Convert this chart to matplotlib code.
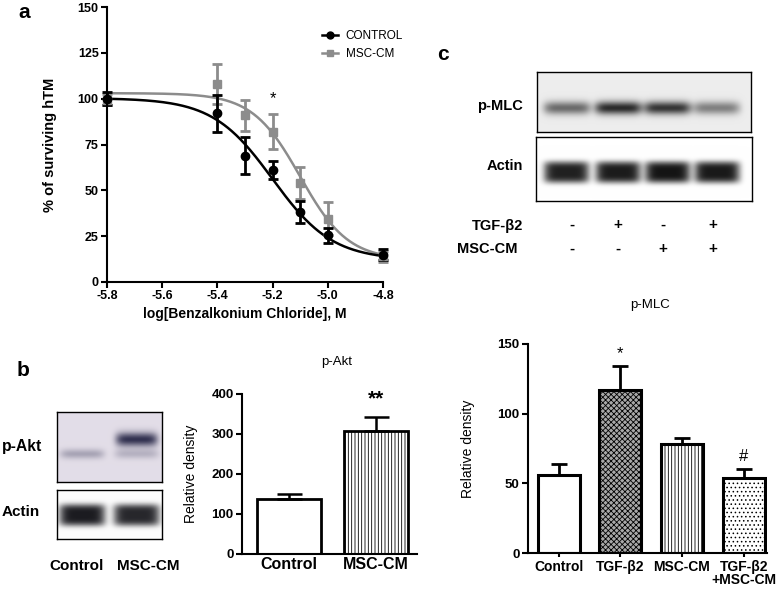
import numpy as np
import matplotlib

matplotlib.use("Agg")
import matplotlib.pyplot as plt
from matplotlib.lines import Line2D

plt.rcParams["font.family"] = ["Liberation Sans", "DejaVu Sans"]
plt.rcParams["hatch.linewidth"] = 0.6

W, H = 778, 590

# --- panel a: survival curves ---
log_conc = [-5.8, -5.4, -5.3, -5.2, -5.1, -5.0, -4.8]
control_surv = [100, 92, 69, 61, 38, 25.5, 15]
control_err = [3.5, 10, 10, 5, 6, 4, 3]
msc_surv = [99.5, 108, 91, 82, 54, 34.5, 14]
msc_err = [3, 11, 8.5, 9.5, 8.5, 9, 3]
# fitted 4PL parameters: top, bottom, logIC50, hill
control_fit = (100.3, 12.0, -5.20, 4.0)
msc_fit = (103.0, 12.0, -5.10, 5.0)

# --- panel b: p-Akt ---
akt_groups = ["Control", "MSC-CM"]
akt_density = [138, 308]
akt_err = [12, 34]
akt_lanes = [0.24, 0.76]
akt_upper_band = [0.0, 0.9]
akt_lower_band = [0.3, 0.22]
actin_b_band = [0.95, 0.9]

# --- panel c: p-MLC ---
mlc_groups = ["Control", "TGF-β2", "MSC-CM", "TGF-β2\n+MSC-CM"]
mlc_density = [56, 117, 78, 54]
mlc_err = [8, 17, 4.5, 6]
mlc_marks = ["", "*", "", "#"]
tgf_signs = ["-", "+", "-", "+"]
msc_signs = ["-", "-", "+", "+"]
mlc_lanes = [0.14, 0.38, 0.61, 0.84]
mlc_band = [0.6, 0.9, 0.85, 0.5]
actin_c_band = [0.95, 0.97, 1.0, 0.98]

GRAY = "#8c8c8c"


def px_axes(fig, l, t, r, b):
    return fig.add_axes([l / W, 1 - b / H, (r - l) / W, (b - t) / H])


def ftext(fig, x, y, s, **kw):
    return fig.text(x / W, 1 - y / H, s, **kw)


def logistic(x, top, bottom, logic50, hill):
    return bottom + (top - bottom) / (1 + 10 ** ((x - logic50) * hill))


def blot(ax, bands, base, ink, shape=(80, 240)):
    ny, nx = shape
    yy, xx = np.mgrid[0:1:ny * 1j, 0:1:nx * 1j]
    dark = np.zeros(shape)
    for lanes, amps, yc, hw, hh, py in bands:
        for cx, a in zip(lanes, amps):
            dark += a * np.exp(-np.abs((xx - cx) / hw) ** 6) * np.exp(-np.abs((yy - yc) / hh) ** py)
    dark = np.clip(dark, 0, 1)[..., None]
    img = np.array(base)[None, None, :] * (1 - dark) + np.array(ink)[None, None, :] * dark
    ax.imshow(img, aspect="auto", extent=(0, 1, 1, 0), interpolation="bilinear")
    ax.set_xticks([])
    ax.set_yticks([])
    for s in ax.spines.values():
        s.set_linewidth(1.0)


def style_bar_axes(ax, xtick_len=0):
    for side in ("top", "right"):
        ax.spines[side].set_visible(False)
    for side in ("left", "bottom"):
        ax.spines[side].set_linewidth(1.5)
    ax.tick_params(axis="y", width=1.5, length=4, labelsize=9.5, pad=2)
    ax.tick_params(axis="x", width=1.5, length=xtick_len, pad=2)
    for lab in ax.get_yticklabels():
        lab.set_fontweight("bold")


fig = plt.figure(figsize=(W / 100, H / 100), dpi=100)

# ---------- panel a ----------
ax = px_axes(fig, 107, 7, 383, 282)
xs = np.linspace(-5.8, -4.8, 300)
ax.plot(xs, logistic(xs, *msc_fit), color=GRAY, lw=1.8)
ax.plot(xs, logistic(xs, *control_fit), color="black", lw=1.8)
ax.errorbar(log_conc, msc_surv, yerr=msc_err, fmt="s", color=GRAY, ms=6,
            elinewidth=2, capsize=3.5, capthick=2, clip_on=False)
ax.errorbar(log_conc, control_surv, yerr=control_err, fmt="o", color="black", ms=6,
            elinewidth=2, capsize=3.5, capthick=2, clip_on=False)
ax.text(-5.2, 96, "*", ha="center", va="bottom", fontsize=12)
ax.set_xlim(-5.8, -4.8)
ax.set_ylim(0, 150)
ax.set_xticks(np.arange(-5.8, -4.79, 0.2))
ax.set_xticklabels([f"{v:.1f}" for v in np.arange(-5.8, -4.79, 0.2)])
ax.set_yticks(np.arange(0, 151, 25))
for side in ("top", "right"):
    ax.spines[side].set_visible(False)
for side in ("left", "bottom"):
    ax.spines[side].set_linewidth(1.5)
ax.tick_params(width=1.5, length=4, labelsize=9, pad=2)
for lab in ax.get_xticklabels() + ax.get_yticklabels():
    lab.set_fontweight("bold")
ax.set_ylabel("% of surviving hTM", fontsize=10.5, fontweight="bold")
ax.set_xlabel("log[Benzalkonium Chloride], M", fontsize=10, fontweight="bold")
ax.yaxis.set_label_coords(-0.18, 0.5)
ax.xaxis.set_label_coords(0.5, -0.09)
handles = [Line2D([], [], color="black", marker="o", ms=5, lw=1.8),
           Line2D([], [], color=GRAY, marker="s", ms=5, lw=1.8)]
ax.legend(handles, ["CONTROL", "MSC-CM"], frameon=False, fontsize=8.5,
          loc="upper left", bbox_to_anchor=(316 / W, 1 - 24 / H),
          bbox_transform=fig.transFigure, handlelength=1.4, handletextpad=0.6,
          labelspacing=0.5, borderpad=0)
ftext(fig, 18, 12, "a", fontsize=15, fontweight="bold", va="center", ha="left")

# ---------- panel b ----------
ftext(fig, 17, 371, "b", fontsize=15, fontweight="bold", va="center", ha="left")
axb1 = px_axes(fig, 57, 412, 162, 482)
blot(axb1, [(akt_lanes, akt_upper_band, 0.39, 0.2, 0.1, 2),
            (akt_lanes, akt_lower_band, 0.6, 0.21, 0.07, 2)],
     base=(0.89, 0.87, 0.91), ink=(0.12, 0.12, 0.25))
axb2 = px_axes(fig, 57, 490, 162, 539)
blot(axb2, [(akt_lanes, actin_b_band, 0.52, 0.22, 0.22, 4)],
     base=(0.99, 0.99, 0.99), ink=(0.06, 0.06, 0.08))
ftext(fig, 2, 447, "p-Akt", fontsize=11.3, fontweight="bold", va="center")
ftext(fig, 2, 512, "Actin", fontsize=11, fontweight="bold", va="center")
ftext(fig, 77, 566, "Control", fontsize=11, fontweight="bold", va="center", ha="center")
ftext(fig, 148, 566, "MSC-CM", fontsize=11, fontweight="bold", va="center", ha="center")

axb = px_axes(fig, 242, 394, 417, 554)
xb = np.arange(len(akt_groups))
axb.bar(xb, akt_density, width=0.74, yerr=[[0, 0], akt_err], color="white",
        edgecolor="black", linewidth=2, hatch=["", "|||||"],
        error_kw=dict(elinewidth=1.8, capsize=9, capthick=1.8))
axb.set_xlim(-0.54, 1.47)
axb.set_ylim(0, 400)
axb.set_yticks(np.arange(0, 401, 100))
axb.set_xticks(xb)
axb.set_xticklabels(akt_groups, fontsize=11.5, fontweight="bold")
style_bar_axes(axb)
axb.set_ylabel("Relative density", fontsize=10)
axb.yaxis.set_label_coords(-0.25, 0.5)
axb.text(1, akt_density[1] + akt_err[1] + 22, "**", ha="center", va="bottom",
         fontsize=15, fontweight="bold")
ftext(fig, 337, 362, "p-Akt", fontsize=9.5, ha="center", va="center")

# ---------- panel c ----------
ftext(fig, 437, 55, "c", fontsize=15, fontweight="bold", va="center", ha="left")
axc1 = px_axes(fig, 537, 72, 751, 132)
blot(axc1, [(mlc_lanes, mlc_band, 0.6, 0.11, 0.11, 2)],
     base=(0.93, 0.93, 0.93), ink=(0.08, 0.08, 0.08))
axc2 = px_axes(fig, 536, 137, 752, 201)
blot(axc2, [(mlc_lanes, actin_c_band, 0.55, 0.105, 0.17, 4)],
     base=(1.0, 1.0, 1.0), ink=(0.08, 0.08, 0.08))
ftext(fig, 523, 106, "p-MLC", fontsize=10.5, fontweight="bold", va="center", ha="right")
ftext(fig, 523, 166, "Actin", fontsize=10.5, fontweight="bold", va="center", ha="right")
ftext(fig, 523, 226, "TGF-β2", fontsize=10.5, fontweight="bold", va="center", ha="right")
ftext(fig, 517, 249, "MSC-CM", fontsize=10.5, fontweight="bold", va="center", ha="right")
for xp, t, m in zip([572, 618, 663, 713], tgf_signs, msc_signs):
    ftext(fig, xp, 225, t, fontsize=11, fontweight="bold", va="center", ha="center")
    ftext(fig, xp, 249, m, fontsize=11, fontweight="bold", va="center", ha="center")
ftext(fig, 650, 305, "p-MLC", fontsize=9.5, ha="center", va="center")

axc = px_axes(fig, 528, 344, 767, 553)
xc = np.arange(len(mlc_groups))
axc.bar(xc, mlc_density, width=0.68, yerr=[[0] * 4, mlc_err],
        color=["white", "#a8a8a8", "white", "white"], edgecolor="black", linewidth=2.2,
        hatch=["", "xxxxxx", "|||||", "...."],
        error_kw=dict(elinewidth=2, capsize=6, capthick=2))
axc.set_xlim(-0.5, 3.38)
axc.set_ylim(0, 150)
axc.set_yticks(np.arange(0, 151, 50))
axc.set_xticks(xc)
axc.set_xticklabels(mlc_groups, fontsize=10, fontweight="bold", linespacing=0.95)
style_bar_axes(axc, xtick_len=3)
axc.set_ylabel("Relative density", fontsize=10)
axc.yaxis.set_label_coords(-0.22, 0.5)
for xi, (v, e, m) in enumerate(zip(mlc_density, mlc_err, mlc_marks)):
    if m:
        axc.text(xi, v + e + 4, m, ha="center", va="bottom", fontsize=12)

fig.savefig("out.png", dpi=100)
